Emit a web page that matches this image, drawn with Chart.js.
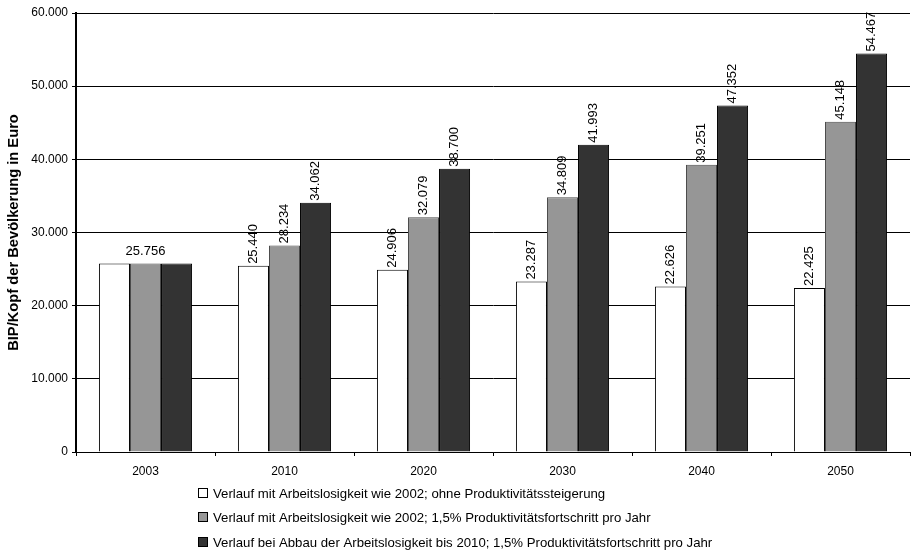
<!DOCTYPE html>
<html>
<head>
<meta charset="utf-8">
<script src="https://cdn.jsdelivr.net/npm/chart.js@4/dist/chart.umd.min.js"></script>
<style>
html,body{margin:0;padding:0;background:#fff;}
#wrap{width:912px;height:550px;position:relative;}
</style>
</head>
<body>
<div id="wrap"><canvas id="c" width="912" height="550"></canvas></div>
<script>
const categories = ['2003','2010','2020','2030','2040','2050'];
const seriesNames = [
  'Verlauf mit Arbeitslosigkeit wie 2002; ohne Produktivitätssteigerung',
  'Verlauf mit Arbeitslosigkeit wie 2002; 1,5% Produktivitätsfortschritt pro Jahr',
  'Verlauf bei Abbau der Arbeitslosigkeit bis 2010; 1,5% Produktivitätsfortschritt pro Jahr'
];
const seriesA = [25756, 25440, 24906, 23287, 22626, 22425];
const seriesB = [25756, 28234, 32079, 34809, 39251, 45148];
const seriesC = [25756, 34062, 38700, 41993, 47352, 54467];
const yTicks = [0, 10000, 20000, 30000, 40000, 50000, 60000];
const yTitle = 'BIP/Kopf der Bevölkerung in Euro';

const colors = ['#ffffff', '#969696', '#333333'];
const borders = ['#000000', '#4a4a4a', '#000000'];

function fmt(v){
  const s = String(Math.round(v));
  return s.replace(/\B(?=(\d{3})+(?!\d))/g, '.');
}

const FONT = 'Arial, "Liberation Sans", sans-serif';

const labelPlugin = {
  id: 'barLabels',
  afterDatasetsDraw(chart){
    const ctx = chart.ctx;
    ctx.save();
    ctx.fillStyle = '#000';
    ctx.font = '13px ' + FONT;
    chart.data.datasets.forEach((ds, di) => {
      const meta = chart.getDatasetMeta(di);
      meta.data.forEach((bar, i) => {
        const v = ds.data[i];
        if (i === 0) {
          if (di !== 1) return;
          ctx.textAlign = 'center';
          ctx.textBaseline = 'middle';
          ctx.fillText(fmt(v), bar.x, bar.y - 12);
          return;
        }
        ctx.save();
        ctx.translate(bar.x, bar.y - 2);
        ctx.rotate(-Math.PI/2);
        ctx.textAlign = 'left';
        ctx.textBaseline = 'middle';
        ctx.fillText(fmt(v), 0, 0);
        ctx.restore();
      });
    });
    ctx.restore();
  }
};

const legendPlugin = {
  id: 'customLegend',
  afterDraw(chart){
    const ctx = chart.ctx;
    ctx.save();
    ctx.font = '13.2px ' + FONT;
    ctx.textAlign = 'left';
    ctx.textBaseline = 'middle';
    const x0 = 198, ys = [493, 517, 542];
    seriesNames.forEach((name, i) => {
      const y = ys[i];
      ctx.fillStyle = colors[i];
      ctx.fillRect(x0 + 0.5, y - 4.5, 9, 9);
      ctx.strokeStyle = '#000';
      ctx.lineWidth = 1;
      ctx.strokeRect(x0 + 0.5, y - 4.5, 9, 9);
      ctx.fillStyle = '#000';
      ctx.fillText(name, x0 + 15, y + 1);
    });
    ctx.restore();
  }
};

const datasets = [seriesA, seriesB, seriesC].map((d, i) => ({
  label: seriesNames[i],
  data: d,
  backgroundColor: colors[i],
  borderColor: borders[i],
  borderWidth: 1,
  borderSkipped: 'bottom',
  barPercentage: 1.0,
  categoryPercentage: 0.67
}));

new Chart(document.getElementById('c'), {
  type: 'bar',
  data: { labels: categories, datasets },
  options: {
    responsive: false,
    animation: false,
    devicePixelRatio: 1,
    layout: { padding: { left: 0, right: 2, top: 13, bottom: 0 } },
    plugins: {
      legend: { display: false },
      tooltip: { enabled: false },
      title: { display: false }
    },
    scales: {
      x: {
        grid: { display: true, drawOnChartArea: false, drawTicks: true, tickLength: 4, color: '#000', offset: true },
        border: { display: true, color: '#000', width: 1 },
        ticks: { color: '#000', font: { family: FONT, size: 12 }, padding: 8 },
        afterFit(scale){ scale.height = 98; }
      },
      y: {
        min: 0, max: 60000,
        afterBuildTicks(scale){ scale.ticks = yTicks.map(v => ({ value: v })); },
        grid: { color: '#000', lineWidth: 1, drawTicks: true, tickLength: 4 },
        border: { display: true, color: '#000', width: 2 },
        ticks: { color: '#000', font: { family: FONT, size: 12 }, padding: 4, callback: v => fmt(v) },
        title: { display: true, text: yTitle, color: '#000', font: { family: FONT, size: 14.7, weight: 'bold' }, padding: { top: 5, bottom: 0 } },
        afterFit(scale){ scale.width = 76; }
      }
    }
  },
  plugins: [labelPlugin, legendPlugin]
});
</script>
</body>
</html>
